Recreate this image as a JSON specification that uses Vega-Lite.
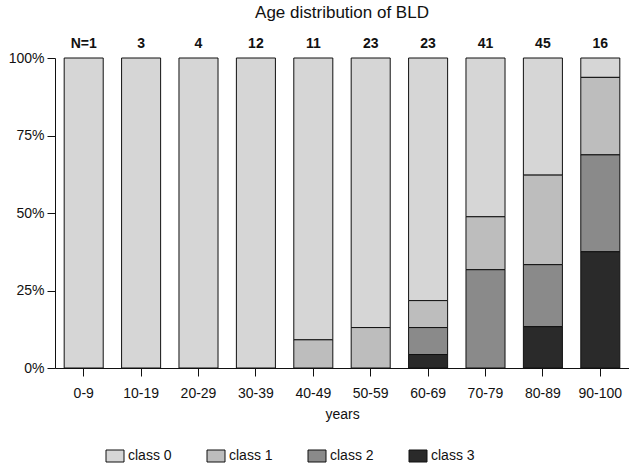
{
  "$schema": "https://vega.github.io/schema/vega-lite/v6.json",
  "width": 574,
  "height": 310,
  "padding": {"left": 8, "right": 0, "top": 4, "bottom": 0},
  "background": "white",
  "config": {
    "font": "Liberation Sans",
    "view": {"stroke": null},
    "axis": {"domainColor": "#111", "tickColor": "#111", "labelColor": "#111", "titleColor": "#111", "grid": false, "labelFont": "Liberation Sans", "titleFont": "Liberation Sans"}
  },
  "title": {"text": "Age distribution of BLD", "fontSize": 17, "fontWeight": "normal", "color": "#111", "offset": 15, "anchor": "middle"},
  "datasets": {
    "bars": [
      {"age": "0-9", "cls": "class 0", "count": 1},
      {"age": "10-19", "cls": "class 0", "count": 3},
      {"age": "20-29", "cls": "class 0", "count": 4},
      {"age": "30-39", "cls": "class 0", "count": 12},
      {"age": "40-49", "cls": "class 0", "count": 10},
      {"age": "40-49", "cls": "class 1", "count": 1},
      {"age": "50-59", "cls": "class 0", "count": 20},
      {"age": "50-59", "cls": "class 1", "count": 3},
      {"age": "60-69", "cls": "class 0", "count": 18},
      {"age": "60-69", "cls": "class 1", "count": 2},
      {"age": "60-69", "cls": "class 2", "count": 2},
      {"age": "60-69", "cls": "class 3", "count": 1},
      {"age": "70-79", "cls": "class 0", "count": 21},
      {"age": "70-79", "cls": "class 1", "count": 7},
      {"age": "70-79", "cls": "class 2", "count": 13},
      {"age": "80-89", "cls": "class 0", "count": 17},
      {"age": "80-89", "cls": "class 1", "count": 13},
      {"age": "80-89", "cls": "class 2", "count": 9},
      {"age": "80-89", "cls": "class 3", "count": 6},
      {"age": "90-100", "cls": "class 0", "count": 1},
      {"age": "90-100", "cls": "class 1", "count": 4},
      {"age": "90-100", "cls": "class 2", "count": 5},
      {"age": "90-100", "cls": "class 3", "count": 6}
    ],
    "ns": [
      {"age": "0-9", "label": "N=1", "top": 1},
      {"age": "10-19", "label": "3", "top": 1},
      {"age": "20-29", "label": "4", "top": 1},
      {"age": "30-39", "label": "12", "top": 1},
      {"age": "40-49", "label": "11", "top": 1},
      {"age": "50-59", "label": "23", "top": 1},
      {"age": "60-69", "label": "23", "top": 1},
      {"age": "70-79", "label": "41", "top": 1},
      {"age": "80-89", "label": "45", "top": 1},
      {"age": "90-100", "label": "16", "top": 1}
    ]
  },
  "encoding": {
    "x": {
      "field": "age", "type": "nominal",
      "sort": ["0-9", "10-19", "20-29", "30-39", "40-49", "50-59", "60-69", "70-79", "80-89", "90-100"],
      "scale": {"paddingInner": 0.32, "paddingOuter": 0.16},
      "axis": {"title": "years", "labelAngle": 0, "labelFontSize": 14, "titleFontSize": 14, "titleFontWeight": "normal", "tickSize": 8, "labelPadding": 10, "titlePadding": 7, "domainWidth": 1}
    }
  },
  "layer": [
    {
      "data": {"name": "bars"},
      "mark": {"type": "bar", "stroke": "#111", "strokeWidth": 1},
      "encoding": {
        "y": {"field": "count", "type": "quantitative", "stack": "normalize",
          "axis": {"title": null, "format": "%", "values": [0, 0.25, 0.5, 0.75, 1], "labelFontSize": 14, "tickSize": 8, "labelPadding": 3}},
        "fill": {"field": "cls", "type": "nominal",
          "scale": {"domain": ["class 0", "class 1", "class 2", "class 3"], "range": ["#d6d6d6", "#bdbdbd", "#8a8a8a", "#2a2a2a"]},
          "legend": {"title": null, "orient": "none", "legendX": 53, "legendY": 391, "direction": "horizontal", "labelFontSize": 14, "labelColor": "#111", "symbolType": "M-1.5,-1H1.5V1H-1.5Z", "symbolSize": 144, "symbolStrokeColor": "#111", "symbolStrokeWidth": 1, "columnPadding": 33, "labelOffset": 6}},
        "order": {"field": "cls", "sort": "descending"}
      }
    },
    {
      "data": {"name": "ns"},
      "mark": {"type": "text", "fontSize": 14, "fontWeight": "bold", "baseline": "alphabetic", "dy": -10, "color": "#111"},
      "encoding": {
        "y": {"field": "top", "type": "quantitative"},
        "text": {"field": "label"}
      }
    }
  ]
}
